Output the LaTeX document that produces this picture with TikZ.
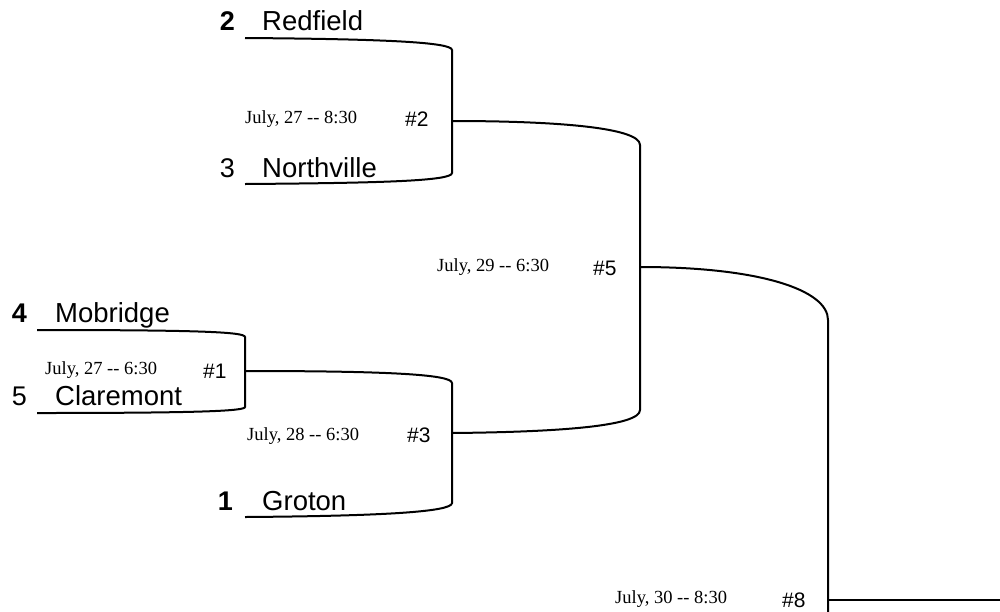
\documentclass[tikz,border=0pt]{standalone}
\usepackage{fontspec}
\setmainfont{Liberation Sans}
\newfontfamily\timesfont{Liberation Serif}
\begin{document}
\begin{tikzpicture}[
		x=1pt, y=-1pt,
		team/.style={anchor=base west, inner sep=0pt, font=\fontsize{27.5}{30}\selectfont},
		seed/.style={anchor=base east, inner sep=0pt, font=\fontsize{27}{30}\selectfont},
		topseed/.style={seed, font=\fontsize{27}{30}\selectfont\bfseries},
		when/.style={anchor=base west, inner sep=0pt, font=\timesfont\fontsize{18.5}{20}\selectfont},
		gameno/.style={anchor=base west, inner sep=0pt, font=\fontsize{21}{24}\selectfont},
		bline/.style={line width=2pt}
		]
		\useasboundingbox (0,0) rectangle (1000,611);
		
		% line ends and corners
		\coordinate (redfield) at (245,38);
		\coordinate (northville) at (245,184);
		\coordinate (mobridge) at (37,330);
		\coordinate (claremont) at (37,413);
		\coordinate (groton) at (245,517);
		\coordinate (g1t) at (245,337);
		\coordinate (g1b) at (245,407);
		\coordinate (g1) at (245,371);
		\coordinate (g2t) at (452,50);
		\coordinate (g2b) at (452,173);
		\coordinate (g2) at (452,121);
		\coordinate (g3t) at (452,383);
		\coordinate (g3b) at (452,503);
		\coordinate (g3) at (452,433);
		\coordinate (g5t) at (640,145);
		\coordinate (g5b) at (640,410);
		\coordinate (g5) at (640,267);
		\coordinate (g8t) at (828,320);
		\coordinate (g8b) at (828,620);
		\coordinate (g8) at (828,600);
		\coordinate (out8) at (1000,600);
		
		% teams
		\node[topseed] (seed2) at (235,30) {2};
		\node[team] (redfieldname) at (262,30) {Redfield};
		\node[seed] (seed3) at (235,177) {3};
		\node[team] (northvillename) at (262,177) {Northville};
		\node[topseed] (seed4) at (27,322) {4};
		\node[team] (mobridgename) at (55,322) {Mobridge};
		\node[seed] (seed5) at (27,405) {5};
		\node[team] (claremontname) at (55,405) {Claremont};
		\node[topseed] (seed1) at (233,510) {1};
		\node[team] (grotonname) at (262,510) {Groton};
		
		% games
		\node[when] (when1) at (45,374) {July, 27 -{}- 6:30};
		\node[gameno] (game1) at (203,378) {\#1};
		\node[when] (when2) at (245,123) {July, 27 -{}- 8:30};
		\node[gameno] (game2) at (405,126) {\#2};
		\node[when] (when3) at (247,440) {July, 28 -{}- 6:30};
		\node[gameno] (game3) at (407,442) {\#3};
		\node[when] (when5) at (437,271) {July, 29 -{}- 6:30};
		\node[gameno] (game5) at (593,275) {\#5};
		\node[when] (when8) at (615,603) {July, 30 -{}- 8:30};
		\node[gameno] (game8) at (782,607) {\#8};
		
		% brackets
		\draw[bline] (redfield) .. controls +(135,1) and +(0,-8) .. (g2t) -- (g2b) .. controls +(0,8) and +(135,-1) .. (northville);
		\draw[bline] (mobridge) .. controls +(163,0) and +(0,-5) .. (g1t) -- (g1b) .. controls +(0,4) and +(163,0) .. (claremont);
		\draw[bline] (g1) .. controls +(135,0) and +(0,-9) .. (g3t) -- (g3b) .. controls +(0,9) and +(135,-1) .. (groton);
		\draw[bline] (g2) .. controls +(108,0) and +(0,-17) .. (g5t) -- (g5b) .. controls +(0,16) and +(108,-1) .. (g3);
		\draw[bline] (g5) .. controls +(120,0) and +(0,-30) .. (g8t) -- (g8b);
		\draw[bline] (g8) -- (out8);
	\end{tikzpicture}
\end{document}
